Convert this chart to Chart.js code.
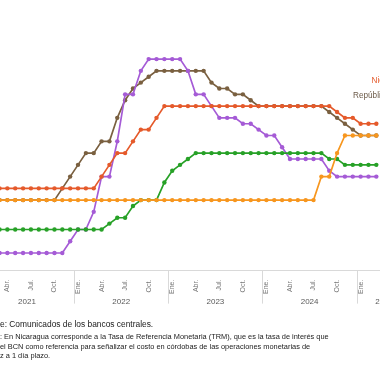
<!DOCTYPE html>
<html><head><meta charset="utf-8">
<script src="https://cdn.jsdelivr.net/npm/chart.js@4"></script>
<style>
html,body{margin:0;padding:0;background:#fff;}
#wrap{position:relative;width:380px;height:380px;overflow:hidden;background:#fff;}
#c{position:absolute;left:-60px;top:0;}
</style></head><body>
<div id="wrap"><canvas id="c" width="500" height="380"></canvas></div>
<script>
// ---- data (monthly policy rates, %) Jan 2021 .. Mar 2025 ----
const months = ['Ene.','Feb.','Mar.','Abr.','May.','Jun.','Jul.','Ago.','Sep.','Oct.','Nov.','Dic.'];
const years = ['2021','2022','2023','2024','2025'];
const monthsIn2025 = 7;
const quarterTicks = ['Ene.','Abr.','Jul.','Oct.'];

const honduras = [
  3,3,3,3,3,3,3,3,3,3,3,3,
  3,3,3,3,3,3,3,3,3,3,3,3,
  3,3,3,3,3,3,3,3,3,3,3,3,
  3,3,3,3,3,3,3,4,4,5,5.75,5.75,
  5.75,5.75,5.75];
const nicaragua = [
  3.5,3.5,3.5,3.5,3.5,3.5,3.5,3.5,3.5,3.5,3.5,3.5,
  3.5,3.5,3.5,4,4.5,5,5,5.5,6,6,6.5,7,
  7,7,7,7,7,7,7,7,7,7,7,7,
  7,7,7,7,7,7,7,7,7,6.75,6.5,6.5,
  6.25,6.25,6.25];
const guatemala = [
  1.75,1.75,1.75,1.75,1.75,1.75,1.75,1.75,1.75,1.75,1.75,1.75,
  1.75,1.75,1.75,1.75,2,2.25,2.25,2.75,3,3,3,3.75,
  4.25,4.5,4.75,5,5,5,5,5,5,5,5,5,
  5,5,5,5,5,5,5,5,4.75,4.75,4.5,4.5,
  4.5,4.5,4.5];
const costaRica = [
  0.75,0.75,0.75,0.75,0.75,0.75,0.75,0.75,0.75,0.75,0.75,1.25,
  1.75,1.75,2.5,4,4,5.5,7.5,7.5,8.5,9,9,9,
  9,9,8.5,7.5,7.5,7,6.5,6.5,6.5,6.25,6.25,6,
  5.75,5.75,5.25,4.75,4.75,4.75,4.75,4.75,4.25,4,4,4,
  4,4,4];
const dominicana = [
  3,3,3,3,3,3,3,3,3,3,3.5,4,
  4.5,5,5,5.5,5.5,6.5,7.25,7.75,8,8.25,8.5,8.5,
  8.5,8.5,8.5,8.5,8.5,8,7.75,7.75,7.5,7.5,7.25,7,
  7,7,7,7,7,7,7,7,6.75,6.5,6.25,6,
  5.75,5.75,5.75];

const seriesNames = ['Honduras','Nicaragua','Guatemala','Costa Rica','República Dominicana'];
const seriesColors = ['#f7961e','#e55a2b','#27a127','#a55bd6','#7a6040'];
const seriesData = [honduras, nicaragua, guatemala, costaRica, dominicana];

const sourceNote = 'Fuente: Comunicados de los bancos centrales.';
const noteLines = [
  'Nota: En Nicaragua corresponde a la Tasa de Referencia Monetaria (TRM), que es la tasa de interés que',
  'utiliza el BCN como referencia para señalizar el costo en córdobas de las operaciones monetarias de',
  'liquidez a 1 día plazo.'
];

// ---- build ----
const labels = [];
years.forEach((y, k) => {
  const n = k === years.length - 1 ? monthsIn2025 : 12;
  for (let m = 0; m < n; m++) labels.push(months[m] + ' ' + y);
});

const FONT = '"Liberation Sans", Arial, sans-serif';
const OFFSET = 60; // canvas is shifted left by this many px (cropped view)

const deco = {
  id: 'deco',
  afterDraw(chart) {
    const ctx = chart.ctx, area = chart.chartArea;
    const step = (area.right - area.left) / labels.length;
    ctx.save();
    // year separators and year labels
    let start = 0;
    years.forEach((y, k) => {
      const n = k === years.length - 1 ? monthsIn2025 : 12;
      const x0 = area.left + start * step, x1 = area.left + (start + n) * step;
      if (k > 0) {
        ctx.strokeStyle = '#d9d9d9'; ctx.lineWidth = 1;
        ctx.beginPath();
        ctx.moveTo(Math.round(x0) + 0.5, area.bottom);
        ctx.lineTo(Math.round(x0) + 0.5, area.bottom + 33);
        ctx.stroke();
      }
      ctx.fillStyle = '#595959';
      ctx.font = '8px ' + FONT;
      ctx.textAlign = 'center'; ctx.textBaseline = 'middle';
      ctx.fillText(y, (x0 + x1) / 2, area.bottom + 31);
      start += n;
    });
    // series labels at right
    ctx.textAlign = 'left'; ctx.textBaseline = 'middle';
    ctx.font = '8.2px ' + FONT;
    ctx.fillStyle = seriesColors[1];
    ctx.fillText(seriesNames[1], OFFSET + 371.5, 81);
    ctx.fillStyle = '#6b5a48';
    ctx.fillText(seriesNames[4], OFFSET + 353, 96);
    // footer
    const foot = [
      {t: sourceNote, hid: 'Fuent', y: 324.5, s: 8.4},
      {t: noteLines[0], hid: 'Nota', y: 337, s: 7.4},
      {t: noteLines[1], hid: 'utiliza ', y: 346.5, s: 7.4},
      {t: noteLines[2], hid: 'liquide', y: 356, s: 7.4}
    ];
    ctx.fillStyle = '#1a1a1a';
    foot.forEach(f => {
      ctx.font = f.s + 'px ' + FONT;
      const w = ctx.measureText(f.hid).width;
      ctx.fillText(f.t, OFFSET - w, f.y);
    });
    ctx.restore();
  }
};

new Chart(document.getElementById('c'), {
  type: 'line',
  data: {
    labels: labels,
    datasets: seriesData.map((d, k) => ({
      label: seriesNames[k],
      data: d,
      borderColor: seriesColors[k],
      backgroundColor: seriesColors[k],
      borderWidth: 1.7,
      pointRadius: 2.2,
      pointBorderWidth: 0,
      pointHoverRadius: 2.2,
      tension: 0,
      fill: false
    }))
  },
  options: {
    responsive: false,
    animation: false,
    devicePixelRatio: 1,
    layout: { padding: { left: 39.9, right: 28.35, top: 35.6, bottom: 0 } },
    plugins: { legend: { display: false }, tooltip: { enabled: false }, title: { display: false } },
    scales: {
      x: {
        type: 'category',
        offset: true,
        grid: { display: false, drawTicks: false },
        border: { display: true, color: '#d9d9d9', width: 1 },
        ticks: {
          autoSkip: false,
          minRotation: 90, maxRotation: 90,
          padding: 9,
          color: '#777777',
          font: { size: 7, family: FONT },
          callback: function (v, i) {
            const m = months[i % 12];
            return quarterTicks.includes(m) ? m : '';
          }
        },
        afterFit: function (scale) { scale.height = 109.4; }
      },
      y: {
        display: false,
        min: 0, max: 10
      }
    }
  },
  plugins: [deco]
});
</script>
</body></html>
